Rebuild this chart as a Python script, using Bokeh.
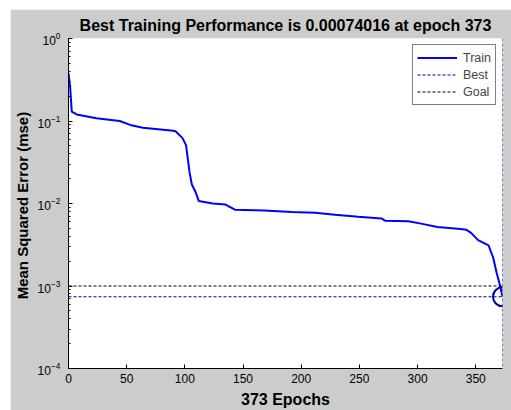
from bokeh.plotting import figure
from bokeh.layouts import column, row
from bokeh.models import Span, Legend, LegendItem, Title, FixedTicker, Spacer
from bokeh.embed import file_html
from bokeh.resources import INLINE

# ---- data ----
epochs = [0, 1.4, 2.8, 7, 24, 44, 53, 64, 90, 92, 98, 101, 102, 104, 106, 109,
          112, 124, 135, 143, 168, 192, 212, 229, 249, 269, 272, 292, 303, 317,
          337, 342, 346, 352, 361, 365, 368, 371, 373]
mse = [0.38, 0.26, 0.13, 0.12, 0.108, 0.100, 0.0896, 0.083, 0.076, 0.075, 0.062,
       0.051, 0.040, 0.024, 0.017, 0.014, 0.0107, 0.0100, 0.0097, 0.0084, 0.0082,
       0.0079, 0.0077, 0.0073, 0.0069, 0.0066, 0.0062, 0.0061, 0.0057, 0.0052,
       0.0049, 0.0048, 0.0044, 0.0036, 0.0031, 0.0022, 0.00144, 0.0010, 0.00074016]
best_epoch = 373
best_perf = 0.00074016
goal = 0.001
y_min, y_max = 1e-4, 1.0
x_ticks = [0, 50, 100, 150, 200, 250, 300, 350]

FONT = "Liberation Sans"
GRAY = "#cccccc"

p = figure(width=501, height=401, output_backend="svg", toolbar_location=None,
           y_axis_type="log", x_range=(0, best_epoch), y_range=(y_min, y_max),
           min_border_left=55, min_border_right=9, min_border_top=29,
           min_border_bottom=39)
p.border_fill_color = GRAY
p.background_fill_color = "white"
p.outline_line_color = None
p.xgrid.grid_line_color = None
p.ygrid.grid_line_color = None

p.title = Title(text="Best Training Performance is 0.00074016 at epoch 373",
                align="center", text_font=FONT, text_font_size="16px",
                text_font_style="bold", text_color="black", standoff=10)

for ax in (p.xaxis[0], p.yaxis[0]):
    ax.axis_line_color = "black"
    ax.major_tick_in = 4
    ax.major_tick_out = 0
    ax.major_label_text_font = FONT
    ax.major_label_text_font_size = "12px"
    ax.major_label_text_color = "black"
    ax.axis_label_text_font = FONT
    ax.axis_label_text_font_style = "bold"
    ax.axis_label_text_color = "black"
    ax.major_tick_line_color = "black"

p.xaxis.ticker = FixedTicker(ticks=x_ticks)
p.xaxis.minor_tick_line_color = None
p.xaxis.axis_label = "373 Epochs"
p.xaxis.axis_label_text_font_size = "16px"
p.xaxis.axis_label_standoff = 5
p.xaxis.major_label_standoff = 5

p.yaxis.minor_tick_in = 2
p.yaxis.minor_tick_out = 0
p.yaxis.minor_tick_line_color = "black"
p.yaxis.axis_label = "Mean Squared Error  (mse)"
p.yaxis.axis_label_text_font_size = "15px"
p.yaxis.axis_label_standoff = 4
p.yaxis.major_label_standoff = 8

train = p.line(epochs, mse, line_color="#0000ff", line_width=2)
best_h = p.line([0, best_epoch], [best_perf, best_perf], line_color="#0000a0",
                line_dash="3 2", line_width=1)
goal_l = p.line([0, best_epoch], [goal, goal], line_color="black",
                line_dash="3 2", line_width=1)
p.add_layout(Span(location=best_epoch, dimension="height", line_color="#0000a0",
                  line_dash="3 2", line_width=1))
p.scatter([best_epoch], [best_perf], marker="circle", size=19,
          fill_color=None, line_color="#000090", line_width=2)

legend = Legend(items=[LegendItem(label="Train", renderers=[train]),
                       LegendItem(label="Best", renderers=[best_h]),
                       LegendItem(label="Goal", renderers=[goal_l])],
                location="top_right", margin=6, padding=4, spacing=0,
                glyph_width=40, glyph_height=17, label_height=17,
                label_standoff=6, label_text_font=FONT,
                label_text_font_size="12.5px", border_line_color="black",
                border_line_width=1, background_fill_alpha=1)
p.add_layout(legend)

layout = column(Spacer(height=9), row(Spacer(width=10), p))
open("out.html", "w").write(file_html(layout, INLINE))
